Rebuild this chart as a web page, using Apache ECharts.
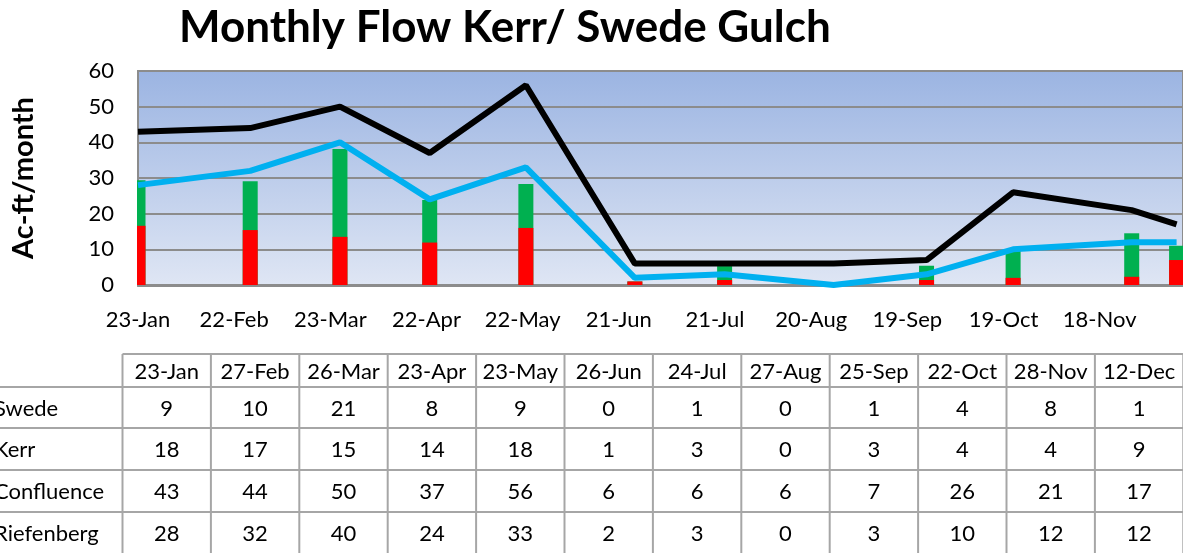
<!DOCTYPE html>
<html>
<head>
<meta charset="utf-8">
<script src="https://cdn.jsdelivr.net/npm/echarts@6/dist/echarts.min.js"></script>
<style>
  html, body { margin: 0; padding: 0; background: #fff; }
  #chart { width: 1183px; height: 553px; }
</style>
</head>
<body>
<div id="chart"></div>
<script>
// sample dates (leap year, axis starts 23-Jan, ticks every 30 days)
const dates = ["2008-01-23", "2008-02-27", "2008-03-26", "2008-04-23", "2008-05-23", "2008-06-26",
  "2008-07-24", "2008-08-27", "2008-09-25", "2008-10-22", "2008-11-28", "2008-12-12"];
const rowNames = ["Swede", "Kerr", "Confluence", "Riefenberg"];
const swede = [9, 10, 21, 8, 9, 0, 1, 0, 1, 4, 8, 1];
const kerr = [18, 17, 15, 14, 18, 1, 3, 0, 3, 4, 4, 9];
const confluence = [43, 44, 50, 37, 56, 6, 6, 6, 7, 26, 21, 17];
const riefenberg = [28, 32, 40, 24, 33, 2, 3, 0, 3, 10, 12, 12];
// bars as drawn in the picture (they don't quite match the table):
// red part height and top of the green part
const kerrBar = [16.6, 15.4, 13.5, 11.9, 16, 1, 1.4, 0, 1.4, 2, 2.3, 7];
const barTop = [29.4, 29.1, 38.1, 23.8, 28.3, 1, 5.3, 0, 5.4, 9.6, 14.5, 11];

const DAY = 86400000;
const start = Date.parse(dates[0]);
const months = ["Jan", "Feb", "Mar", "Apr", "May", "Jun", "Jul", "Aug", "Sep", "Oct", "Nov", "Dec"];
const dayOf = (d) => Math.round((Date.parse(d) - start) / DAY);
const fmt = (v) => {
  const d = new Date(start + v * DAY);
  return d.getUTCDate() + "-" + months[d.getUTCMonth()];
};
const xs = dates.map(dayOf);
const pairs = (vals) => vals.map((v, i) => [xs[i], v]);

const font = "Lato";
const tableFont = "22px " + font;

// table layout
const tblLeft = 122.5;
const colW = 88.4;
const rowY = [354, 387, 428, 470, 512, 554];
const lineStyle = { stroke: "#a6a6a6", lineWidth: 2 };
const graphic = [];
graphic.push({ type: "line", shape: { x1: tblLeft, y1: rowY[0], x2: 1183, y2: rowY[0] }, style: lineStyle });
for (let r = 1; r < rowY.length - 1; r++) {
  graphic.push({ type: "line", shape: { x1: 0, y1: rowY[r], x2: 1183, y2: rowY[r] }, style: lineStyle });
}
for (let c = 0; c <= dates.length; c++) {
  const x = tblLeft + c * colW;
  graphic.push({ type: "line", shape: { x1: x, y1: rowY[0], x2: x, y2: 553 }, style: lineStyle });
}
const cell = (txt, x, y, align) => ({
  type: "text",
  style: {
    text: String(txt), x: x, y: y, font: tableFont, fill: "#000",
    textAlign: align, align: align, textVerticalAlign: "middle", verticalAlign: "middle"
  }
});
const rows = [swede, kerr, confluence, riefenberg];
dates.forEach((d, c) => {
  const cx = tblLeft + (c + 0.5) * colW;
  graphic.push(cell(fmt(xs[c]), cx, (rowY[0] + rowY[1]) / 2 + 1, "center"));
  rows.forEach((vals, r) => {
    graphic.push(cell(vals[c], cx, (rowY[r + 1] + rowY[r + 2]) / 2 + 1, "center"));
  });
});
rowNames.forEach((n, r) => {
  graphic.push(cell(n, -6, (rowY[r + 1] + rowY[r + 2]) / 2 + 1, "left"));
});
// bars are not clipped on a value axis: mask the part left of the plot
graphic.push({ type: "rect", z: 10, shape: { x: 118, y: 60, width: 19, height: 240 }, style: { fill: "#fff" } });

const chart = echarts.init(document.getElementById("chart"));
chart.setOption({
  animation: false,
  title: {
    text: "Monthly Flow Kerr/ Swede Gulch",
    left: 174,
    top: 1,
    textStyle: { fontFamily: font, fontWeight: "bold", fontSize: 44, color: "#000" }
  },
  grid: {
    left: 138, top: 71, right: -5, bottom: 268,
    show: true,
    borderColor: "#8c8c8c",
    borderWidth: 2,
    backgroundColor: new echarts.graphic.LinearGradient(0, 0, 0, 1, [
      { offset: 0, color: "#9bb4e2" },
      { offset: 1, color: "#dfe6f4" }
    ])
  },
  xAxis: {
    type: "value",
    min: 0,
    max: 326,
    interval: 30,
    axisLine: { show: true, lineStyle: { color: "#8c8c8c", width: 3 } },
    axisTick: { show: false },
    splitLine: { show: false },
    axisLabel: { formatter: fmt, showMaxLabel: false, margin: 24, fontFamily: font, fontSize: 22, color: "#000" }
  },
  yAxis: {
    type: "value",
    min: 0,
    max: 60,
    interval: 10,
    name: "Ac-ft/month",
    nameLocation: "middle",
    nameGap: 100,
    nameTextStyle: { fontFamily: font, fontWeight: "bold", fontSize: 29, color: "#000" },
    axisLine: { show: false },
    axisTick: { show: false },
    splitLine: { lineStyle: { color: "#8c8c8c", width: 2 } },
    axisLabel: { margin: 24, fontFamily: font, fontSize: 22, color: "#000" }
  },
  graphic: graphic,
  series: [
    {
      name: "Swede", type: "bar", barWidth: 15, barGap: "-100%",
      data: pairs(barTop), itemStyle: { color: "#00b050" }
    },
    {
      name: "Kerr", type: "bar", barWidth: 15, barGap: "-100%",
      data: pairs(kerrBar), itemStyle: { color: "#ff0000" }, z: 3
    },
    {
      name: "Confluence", type: "line", data: pairs(confluence), showSymbol: false,
      lineStyle: { color: "#000", width: 6 }, z: 5
    },
    {
      name: "Riefenberg", type: "line", data: pairs(riefenberg), showSymbol: false,
      lineStyle: { color: "#00b0f0", width: 6 }, z: 5
    }
  ]
});
window.addEventListener("resize", () => chart.resize());
</script>
</body>
</html>
